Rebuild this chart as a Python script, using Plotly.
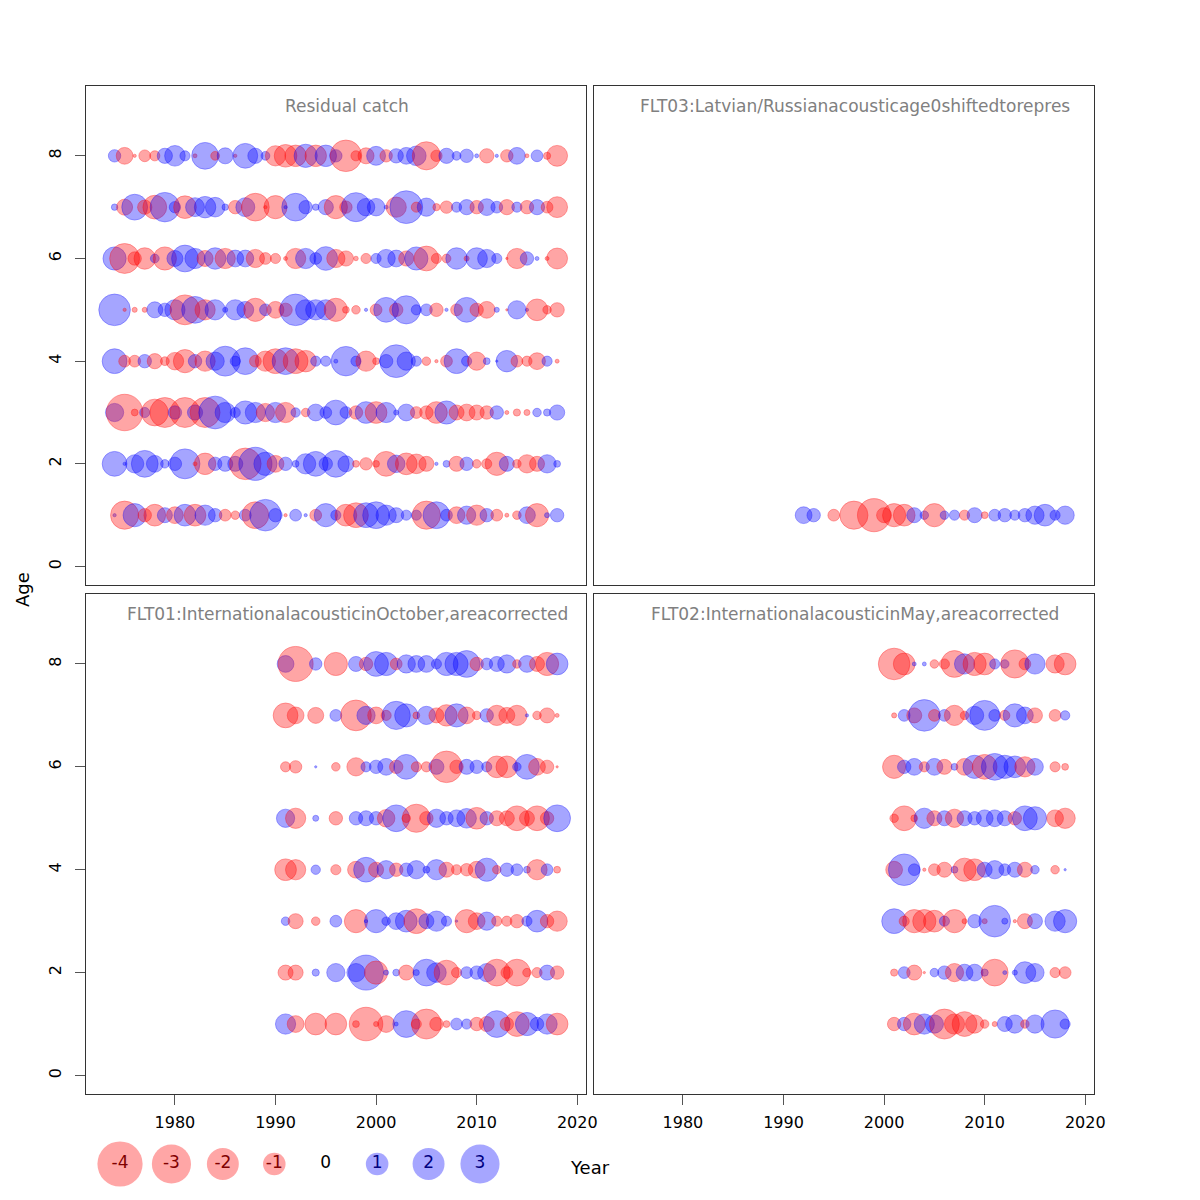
import plotly.graph_objects as go

ages = [1, 2, 3, 4, 5, 6, 7, 8]

# residual catch, 1974-2018
catch_years = list(range(1974, 2019))
catch_age1 = [0.02, -1.55, 1.05, -0.35, -0.92, 0.44, -0.55, 0.92, -0.92, 0.8,
              0.35, -0.27, -0.14, 0.27, -1.4, 1.95, 0.35, -0.02, 0.27, 0.02,
              -0.27, 1.05, 0.2, -0.92, -1.2, 1.2, 1.4, 0.8, 0.44, 0.2,
              0.2, -1.55, 1.4, 0.27, -0.55, 0.65, -0.8, 0.35, -0.27, -0.03,
              -0.14, 0.55, -1.05, 0.05, 0.35]
catch_age2 = [1.2, 0.02, 0.65, 1.4, 0.55, 0.14, 0.35, 1.75, -0.03, -0.9,
              0.35, 0.44, 0.44, -1.95, 2.15, 1.05, -0.55, 0.35, 0.09, 0.8,
              1.2, 0.35, 1.4, 0.5, -0.09, -0.3, -0.09, -1.2, 0.6, -0.92,
              -0.75, -0.44, 0.02, 0.09, -0.44, 0.35, -0.14, -0.2, -1.05, 0.44,
              -0.14, -0.65, -0.44, 0.65, 0.09]
catch_age3 = [0.65, -2.6, -0.09, 0.2, -1.4, -1.75, 0.35, -1.75, 0.45, -1.75,
              2.1, 0.8, 0.2, 1.05, 0.8, -0.65, 0.8, -0.8, 0.17, -0.14,
              0.55, 0.27, 1.2, 0.27, -0.35, 0.92, -0.92, 0.8, 0.05, 0.55,
              -0.27, -0.35, -0.92, 1.05, -0.44, -0.55, -0.44, -0.35, 0.35, -0.03,
              -0.1, -0.07, 0.14, 0.1, 0.45]
catch_age4 = [1.2, -0.27, -0.27, 0.35, -0.45, -0.15, -0.6, -1.05, 0.35, -0.8,
              0.65, 1.75, 0.2, 1.4, -0.27, -0.8, -1.2, 1.4, -1.2, -0.9,
              0.2, 0.2, 0.03, 1.7, 0.2, -0.8, -0.09, 0.35, 2.1, 0.65,
              0.2, -0.14, -0.02, -0.27, 1.2, 0.2, -0.65, 0.09, 0.01, 0.9,
              -0.27, -0.2, -0.55, 0.2, -0.03]
catch_age5 = [1.95, -0.02, -0.05, -0.05, 0.5, 0.35, 0.8, -1.75, 1.4, -0.8,
              0.8, 0.05, 0.8, 0.55, -1.05, 0.27, -0.55, -0.35, 1.95, 0.8,
              0.8, 0.8, -1.05, -0.09, -0.14, 0.02, -0.27, 1.2, -0.35, 1.55,
              0.2, 0.27, -0.35, 0.02, -0.27, 1.2, -0.35, -0.55, 0.05, -0.01,
              0.65, 0.02, -0.92, -0.14, -0.4]
catch_age6 = [1.05, -1.75, -0.35, -0.9, 0.15, -1.05, 0.5, 1.4, 0.8, -0.5,
              0.9, -0.8, 0.55, 0.55, -0.65, -0.27, -0.2, -0.03, -0.8, 0.8,
              0.27, 1.1, -0.65, -0.45, -0.04, -0.2, 0.2, 0.65, 0.55, -0.45,
              1.05, -1.2, -0.2, -0.15, 0.9, -0.05, 0.9, 0.65, 0.2, -0.01,
              -0.8, 0.35, 0.03, -0.03, -0.85]
catch_age7 = [0.08, -0.5, 1.3, -0.4, -1.1, 1.7, 0.25, -1.0, 0.7, 0.9,
              0.75, 0.08, -0.35, 0.7, -1.5, -0.02, -1.05, 0.02, 1.5, 0.35,
              0.08, 0.45, -1.05, -0.3, 1.65, 0.6, 0.6, 0.03, -0.8, 2.1,
              -0.2, 0.65, -0.1, -0.3, 0.2, 0.45, -0.35, 0.55, 0.27, -0.45,
              0.2, -0.35, 0.45, -0.27, -0.85]
catch_age8 = [0.3, -0.55, -0.02, -0.27, -0.2, 0.45, 0.83, 0.2, -0.03, 1.4,
              -0.15, 0.5, -0.02, 1.2, 0.45, 0.15, -0.8, -1.0, -0.9, 1.05,
              -0.9, 0.9, 0.3, -1.95, -0.2, -0.5, 0.7, -0.3, 0.4, 0.55,
              0.75, -1.55, -0.25, 0.45, 0.15, 0.35, 0.03, -0.4, 0.02, -0.3,
              0.55, -0.03, 0.27, -0.1, -0.85]

# FLT01, 1991-2018
flt01_years = list(range(1991, 2019))
flt01_age1 = [0.8, -0.55, None, -0.92, None, -0.92, None, -0.09, -2.2, -0.05,
              -0.55, 0.03, 1.4, -0.2, -1.75, -0.35, -0.09, 0.27, 0.2, -0.35,
              -0.44, 1.4, -0.35, -1.2, 1.05, 0.35, 0.8, -0.92]
flt01_age2 = [-0.44, -0.44, None, 0.1, None, 0.65, None, 0.65, 2.4, -1.05,
              0.05, 0.09, -0.44, 0.07, 1.4, 0.75, -1.2, -0.2, 0.27, 0.35,
              0.65, -1.4, -0.27, -1.4, -0.14, -0.2, 0.44, -0.35]
flt01_age3 = [0.14, -0.44, None, -0.14, None, 0.27, None, -1.05, 0.02, 1.05,
              0.14, 0.55, 0.92, -1.2, 0.44, 0.8, 0.2, 0.01, -1.05, -0.55,
              0.65, -0.2, -0.2, -0.35, 0.2, 0.92, -0.35, -0.8]
flt01_age4 = [-0.92, -0.8, None, 0.17, None, -0.2, None, -0.55, 1.2, -0.44,
              0.65, -0.35, 0.35, 0.65, 0.09, 0.8, -0.44, -0.2, -0.3, -0.55,
              1.05, -0.14, 0.35, 0.27, 0.09, -0.8, 0.27, -0.09]
flt01_age5 = [0.65, -0.8, None, 0.07, None, -0.35, None, 0.35, 0.44, 0.35,
              -0.6, 1.4, -0.14, -1.55, -0.35, 0.65, 0.35, 0.55, 0.75, -0.92,
              0.35, -0.44, -0.44, -1.2, -0.44, -1.2, -0.35, 1.4]
flt01_age6 = [-0.2, -0.3, None, 0.01, None, -0.14, None, -0.65, 0.2, 0.35,
              0.55, -0.35, 1.2, -0.2, -0.2, 0.44, -1.95, -0.35, 0.44, 0.35,
              0.2, -0.92, -0.92, 0.14, 1.2, -0.55, -0.35, -0.01]
flt01_age7 = [-1.2, -0.55, None, -0.5, None, 0.27, None, -1.85, 0.65, -0.55,
              -0.2, 1.55, 1.05, -0.09, 0.65, -0.44, -0.9, 1.05, -0.55, -0.14,
              0.35, -0.8, -0.5, -0.8, 0.02, -0.14, -0.44, -0.03]
flt01_age8 = [0.55, -2.4, None, 0.3, None, -1.05, None, 0.44, -0.35, 1.2,
              1.05, -0.27, 0.65, 0.55, 0.55, 0.2, 1.05, 1.05, 1.4, -0.35,
              0.27, 0.44, 0.65, -0.14, 0.55, -0.44, -1.05, 0.92]

# FLT02, 2001-2018
flt02_years = list(range(2001, 2019))
flt02_age1 = [-0.35, 0.35, -0.92, 0.8, 0.65, -1.75, -0.8, -1.2, -0.65, -0.14,
              -0.05, 0.44, 0.65, -0.14, 0.65, None, 1.55, 0.2]
flt02_age2 = [-0.1, 0.27, -0.44, -0.01, 0.14, 0.35, -0.65, 0.55, 0.55, 0.1,
              -1.4, 0.03, 0.05, 0.92, 0.65, None, -0.2, -0.27]
flt02_age3 = [1.2, -0.2, -1.05, -1.05, -0.92, 0.2, -1.05, -0.05, 0.35, -0.05,
              1.95, 0.07, -0.02, -0.44, 0.44, None, 0.8, 1.05]
flt02_age4 = [-0.55, 1.95, 0.27, -0.02, -0.27, -0.44, 0.09, -1.05, -0.92, 0.44,
              0.65, 0.27, 0.44, -0.44, 0.14, None, -0.14, 0.01]
flt02_age5 = [-0.14, -1.2, -0.09, 0.8, -0.44, 0.44, -0.65, 0.44, 0.35, 0.55,
              0.55, 0.44, -0.35, 1.2, 1.05, None, -0.55, -0.8]
flt02_age6 = [-1.05, 0.35, 0.55, -0.2, 0.55, -0.44, 0.09, -0.55, 1.05, -1.2,
              1.4, 1.05, 0.92, -0.8, 0.55, None, -0.2, -0.09]
flt02_age7 = [-0.05, 0.27, -0.44, 1.95, -0.27, 0.27, -0.8, -0.14, 0.65, 1.75,
              0.27, -0.2, 1.05, 0.55, -0.44, None, -0.27, 0.17]
flt02_age8 = [-1.95, -0.92, 0.03, 0.03, -0.14, -0.2, -1.4, 0.8, -1.05, -0.92,
              0.2, 0.14, -1.55, -0.27, 0.8, None, -0.65, -0.92]

# FLT03, age 1 only, 1992-2018
flt03_years = list(range(1992, 2019))
flt03_age1 = [0.55, 0.35, None, -0.27, None, -1.55, None, -2.15, -0.44,
              -1.05, -0.92, 0.44, 0.14, -1.05, 0.14, 0.2, -0.2, 0.44, -0.09,
              0.27, 0.35, 0.2, 0.35, 0.65, 0.92, 0.2, 0.65]

legend_values = [-4, -3, -2, -1, 0, 1, 2, 3]

RED = "rgba(255,0,0,0.5)"
BLUE = "rgba(0,0,255,0.5)"
UNIT = 22.6  # diameter (px) of a bubble for residual 1, area ~ |residual|
FONT = "DejaVu Sans"
W = 1188.0   # effective rendered width used for the x layout fractions
H = 1200.0


def bubbles(years, rows, row_ages):
    xs, ys, sizes, cols = [], [], [], []
    for age, row in zip(row_ages, rows):
        for yr, r in zip(years, row):
            if r is None or r == 0:
                continue
            xs.append(yr)
            ys.append(age)
            sizes.append(UNIT * abs(r) ** 0.5)
            cols.append(RED if r < 0 else BLUE)
    return xs, ys, sizes, cols


panels = [
    ("Residual catch", catch_years,
     [catch_age1, catch_age2, catch_age3, catch_age4,
      catch_age5, catch_age6, catch_age7, catch_age8], ages,
     (86, 585.7, 86, 585), False, True),
    ("FLT03:Latvian/Russianacousticage0shiftedtorepres", flt03_years,
     [flt03_age1], [1],
     (594, 1093.7, 86, 585), False, False),
    ("FLT01:InternationalacousticinOctober,areacorrected", flt01_years,
     [flt01_age1, flt01_age2, flt01_age3, flt01_age4,
      flt01_age5, flt01_age6, flt01_age7, flt01_age8], ages,
     (86, 585.7, 594, 1094), True, True),
    ("FLT02:InternationalacousticinMay,areacorrected", flt02_years,
     [flt02_age1, flt02_age2, flt02_age3, flt02_age4,
      flt02_age5, flt02_age6, flt02_age7, flt02_age8], ages,
     (594, 1093.7, 594, 1094), True, False),
]

fig = go.Figure()
layout = {}
annotations = []

for i, (title, years, rows, row_ages, box, show_x, show_y) in enumerate(panels, 1):
    sfx = "" if i == 1 else str(i)
    xs, ys, sizes, cols = bubbles(years, rows, row_ages)
    fig.add_trace(go.Scatter(
        x=xs, y=ys, mode="markers", xaxis="x" + sfx, yaxis="y" + sfx,
        marker=dict(size=sizes, color=cols, sizemode="diameter",
                    line=dict(color=cols, width=1)),
        showlegend=False, hoverinfo="x+y"))
    x0, x1, y0, y1 = box
    layout["xaxis" + sfx] = dict(
        domain=[x0 / W, x1 / W], range=[1971.16, 2020.84],
        anchor="y" + sfx, showline=True, linecolor="#333", linewidth=1,
        mirror=True, showgrid=False, zeroline=False,
        tickvals=[1980, 1990, 2000, 2010, 2020],
        ticks="outside" if show_x else "", ticklen=10, tickcolor="#555",
        showticklabels=show_x, ticklabelstandoff=4,
        tickfont=dict(family=FONT, size=16, color="black"))
    layout["yaxis" + sfx] = dict(
        domain=[1 - y1 / H, 1 - y0 / H], range=[-0.36, 9.36],
        anchor="x" + sfx, showline=True, linecolor="#333", linewidth=1,
        mirror=True, showgrid=False, zeroline=False,
        tickvals=[0, 2, 4, 6, 8], tickangle=-90,
        ticks="outside" if show_y else "", ticklen=10, tickcolor="#555",
        showticklabels=show_y, ticklabelstandoff=8,
        tickfont=dict(family=FONT, size=16, color="black"))
    annotations.append(dict(
        text=title, xref="x%s domain" % sfx, yref="y%s domain" % sfx,
        x=0.523, y=0.96, showarrow=False, xanchor="center", yanchor="middle",
        font=dict(family=FONT, size=17, color="#808080")))

# bubble size key below the panels
leg_sizes = [UNIT * abs(v) ** 0.5 for v in legend_values]
leg_cols = [RED if v < 0 else BLUE if v > 0 else "rgba(0,0,0,0)" for v in legend_values]
leg_text_cols = ["#800000" if v < 0 else "#000080" if v > 0 else "black" for v in legend_values]
fig.add_trace(go.Scatter(
    x=[str(v) for v in legend_values], y=[0] * len(legend_values),
    mode="markers+text", text=[str(v) for v in legend_values],
    textposition="middle center",
    textfont=dict(family=FONT, size=17, color=leg_text_cols),
    marker=dict(size=leg_sizes, color=leg_cols, line=dict(width=0)),
    xaxis="x5", yaxis="y5", showlegend=False, hoverinfo="skip"))
layout["xaxis5"] = dict(domain=[94.3 / W, 505.7 / W], type="category",
                        range=[-0.5, 7.5], visible=False, anchor="y5")
layout["yaxis5"] = dict(domain=[0.0, 0.06], range=[-1, 1], visible=False,
                        anchor="x5")

annotations.append(dict(text="Year", xref="paper", yref="paper",
                        x=590 / W, y=1 - 1167 / H, showarrow=False,
                        xanchor="center", yanchor="middle",
                        font=dict(family=FONT, size=18, color="black")))
annotations.append(dict(text="Age", xref="paper", yref="paper",
                        x=22 / W, y=1 - 590 / H, showarrow=False,
                        xanchor="center", yanchor="middle", textangle=-90,
                        font=dict(family=FONT, size=18, color="black")))

fig.update_layout(
    width=1200, height=1200, autosize=False,
    margin=dict(l=0, r=0, t=0, b=0),
    paper_bgcolor="white", plot_bgcolor="white",
    font=dict(family=FONT, size=16, color="black"),
    annotations=annotations, **layout)

# fixed 1200px figure, no page margin, no scrollbars, no modebar
fig.write_html("out.html",
               config={"responsive": False, "displayModeBar": False},
               post_script="document.body.style.margin='0';"
                           "document.body.style.overflow='hidden';")
